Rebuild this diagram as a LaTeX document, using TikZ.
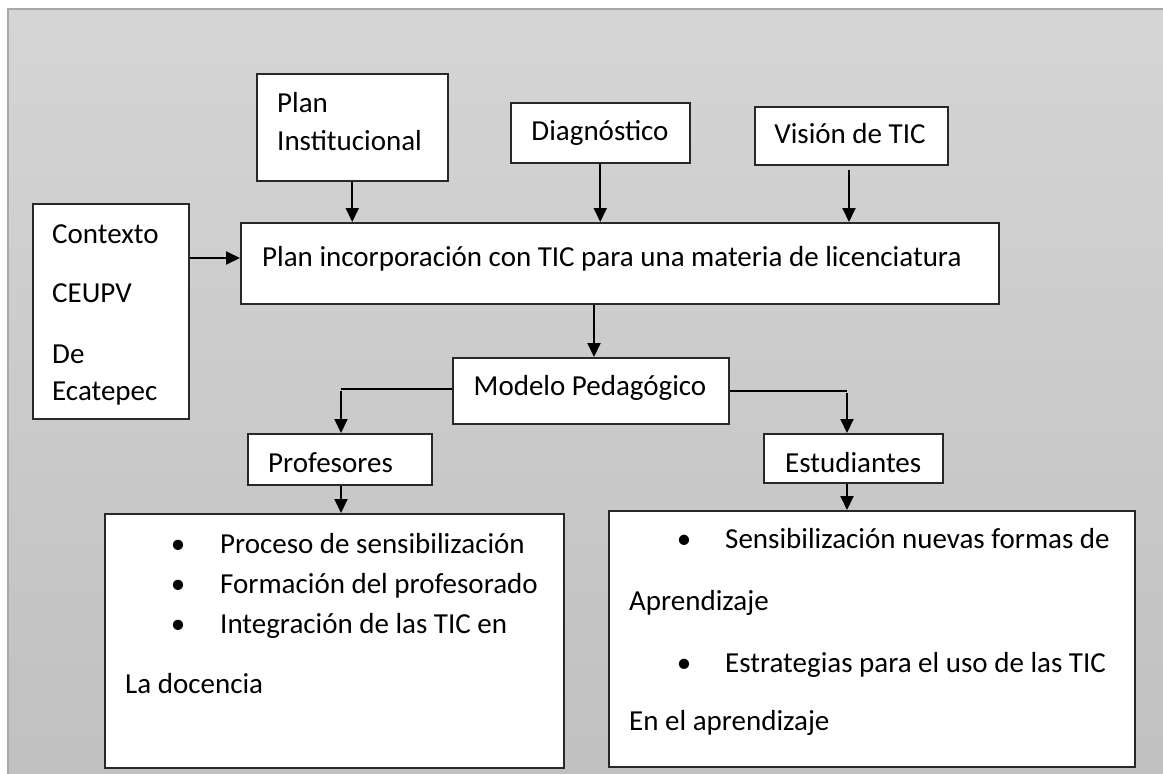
\documentclass[tikz,border=0pt]{standalone}
\usepackage{fontspec}
\setmainfont{Carlito}
\usetikzlibrary{arrows.meta}
\definecolor{bgtop}{RGB}{213,213,213}
\definecolor{bgbot}{RGB}{192,192,192}
\definecolor{panelline}{RGB}{168,168,168}
\definecolor{boxline}{RGB}{40,40,40}
\begin{document}
\begin{tikzpicture}[x=1pt,y=-1pt,
  box/.style={draw=boxline, line width=1.5pt, fill=white, inner sep=0pt, anchor=north west},
  txt/.style={inner sep=0pt, anchor=base west, font=\fontsize{29}{35}\selectfont},
  ctxt/.style={inner sep=0pt, anchor=base, font=\fontsize{29}{35}\selectfont},
  arr/.style={line width=2pt, draw=black, -{Triangle[length=14pt,width=13pt]}},
  conn/.style={line width=1.5pt, draw=black}]
\useasboundingbox (0,0) rectangle (1163,774);
% panel
\shade[top color=bgtop, bottom color=bgbot] (8,9) rectangle (1180,790);
\draw[panelline, line width=2pt] (1180,9) -- (8,9) -- (8,790);
% boxes
\node[box, minimum width=191pt, minimum height=107pt] (plan) at (256,73) {};
\node[box, minimum width=179pt, minimum height=60pt] (diag) at (510,102) {};
\node[box, minimum width=193pt, minimum height=58pt] (vision) at (754,106) {};
\node[box, minimum width=156pt, minimum height=215pt] (ctx) at (32,203) {};
\node[box, minimum width=758pt, minimum height=81pt] (main) at (240,222) {};
\node[box, minimum width=276pt, minimum height=66pt] (modelo) at (452,357) {};
\node[box, minimum width=184pt, minimum height=51pt] (prof) at (247,433) {};
\node[box, minimum width=179pt, minimum height=49pt] (est) at (763,433) {};
\node[box, minimum width=459pt, minimum height=254pt] (lbox) at (104,513) {};
\node[box, minimum width=526pt, minimum height=256pt] (rbox) at (608,510) {};
% texts
\node[txt] (tplan1) at (277,112) {Plan};
\node[txt] (tplan2) at (277,150) {Institucional};
\node[ctxt] (tdiag) at (600,140) {Diagnóstico};
\node[ctxt] (tvision) at (850,143) {Visión de TIC};
\node[txt] (tctx1) at (52,243) {Contexto};
\node[txt] (tctx2) at (52,302) {CEUPV};
\node[txt] (tctx3) at (52,363) {De};
\node[txt] (tctx4) at (52,400) {Ecatepec};
\node[txt] (tmain) at (262,266) {Plan incorporación con TIC para una materia de licenciatura};
\node[ctxt] (tmodelo) at (590,395) {Modelo Pedagógico};
\node[txt] (tprof) at (268,472) {Profesores};
\node[txt] (test) at (785,472) {Estudiantes};
\node[ctxt] (lb1) at (178,553) {•};
\node[txt] (l1) at (220,553) {Proceso de sensibilización};
\node[ctxt] (lb2) at (178,593) {•};
\node[txt] (l2) at (220,593) {Formación del profesorado};
\node[ctxt] (lb3) at (178,633) {•};
\node[txt] (l3) at (220,633) {Integración de las TIC en};
\node[txt] (l4) at (125,693) {La docencia};
\node[ctxt] (rb1) at (684,548) {•};
\node[txt] (r1) at (725,548) {Sensibilización nuevas formas de};
\node[txt] (r2) at (629,610) {Aprendizaje};
\node[ctxt] (rb2) at (684,672) {•};
\node[txt] (r3) at (725,672) {Estrategias para el uso de las TIC};
\node[txt] (r4) at (629,730) {En el aprendizaje};
% connectors
\coordinate (ya) at (0,258);
\coordinate (xm) at (594,0);
\coordinate (yl) at (0,389);
\coordinate (xp) at (341,0);
\coordinate (yr) at (0,391);
\coordinate (xe) at (847,0);
\coordinate (xv) at (849,0);
\draw[arr] (plan.south) -- (plan.south |- main.north);
\draw[arr] (diag.south) -- (diag.south |- main.north);
\draw[arr] ([yshift=-4pt]vision.south -| xv) -- (main.north -| xv);
\draw[arr] (ctx.east |- ya) -- (main.west |- ya);
\draw[arr] (main.south -| xm) -- (modelo.north -| xm);
\draw[conn] (modelo.west |- yl) -- (xp |- yl);
\draw[arr] ([yshift=-2pt]xp |- yl) -- (prof.north -| xp);
\draw[conn] (modelo.east |- yr) -- (xe |- yr);
\draw[arr] ([yshift=-2pt]xe |- yr) -- (est.north -| xe);
\draw[arr] (prof.south -| xp) -- (lbox.north -| xp);
\draw[arr] (est.south -| xe) -- (rbox.north -| xe);
\end{tikzpicture}
\end{document}
